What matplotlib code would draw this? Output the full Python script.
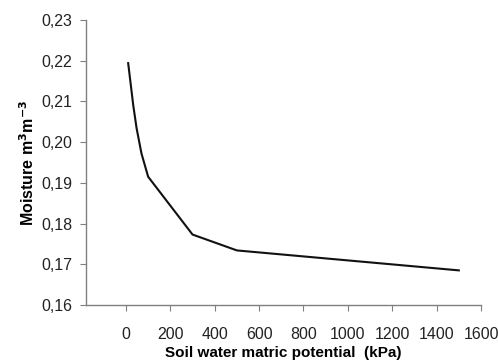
import matplotlib
matplotlib.use('Agg')
from matplotlib import pyplot as plt
from matplotlib.ticker import FuncFormatter

plt.rcParams['font.family'] = ['Liberation Sans', 'DejaVu Sans']

# Soil water retention data
potential_kpa = [10, 33, 48, 70, 100, 300, 500, 1500]
moisture = [0.2194, 0.2090, 0.2034, 0.1972, 0.1915, 0.1773, 0.1734, 0.1685]
x_ticks = [0, 200, 400, 600, 800, 1000, 1200, 1400, 1600]
y_ticks = [0.16, 0.17, 0.18, 0.19, 0.20, 0.21, 0.22, 0.23]

fig = plt.figure(figsize=(4.98, 3.62), dpi=100)
axes = fig.add_axes([0.1727, 0.1575, 0.7932, 0.7873])

axes.plot(potential_kpa, moisture, color='#111111', linewidth=1.5)

axes.set_xlim(-180, 1600)
axes.set_ylim(0.16, 0.23)
axes.set_xticks(x_ticks)
axes.set_yticks(y_ticks)
axes.yaxis.set_major_formatter(FuncFormatter(lambda v, p: f'{v:.2f}'.replace('.', ',')))

for side in ['top', 'right']:
    axes.spines[side].set_visible(False)
for side in ['left', 'bottom']:
    axes.spines[side].set_color('#808080')
    axes.spines[side].set_linewidth(1)
axes.tick_params(axis='both', colors='#808080', labelcolor='#222222',
                 labelsize=11.5, length=4, direction='out')
axes.tick_params(axis='y', pad=6)
axes.tick_params(axis='x', pad=12)

axes.set_xlabel('Soil water matric potential  (kPa)', fontsize=11, fontweight='bold',
                labelpad=3)
axes.set_ylabel(r'Moisture m$^\mathbf{3}$m$^\mathbf{-3}$', fontsize=11.5, fontweight='bold',
                labelpad=3)

plt.savefig('out.png', dpi=100)
